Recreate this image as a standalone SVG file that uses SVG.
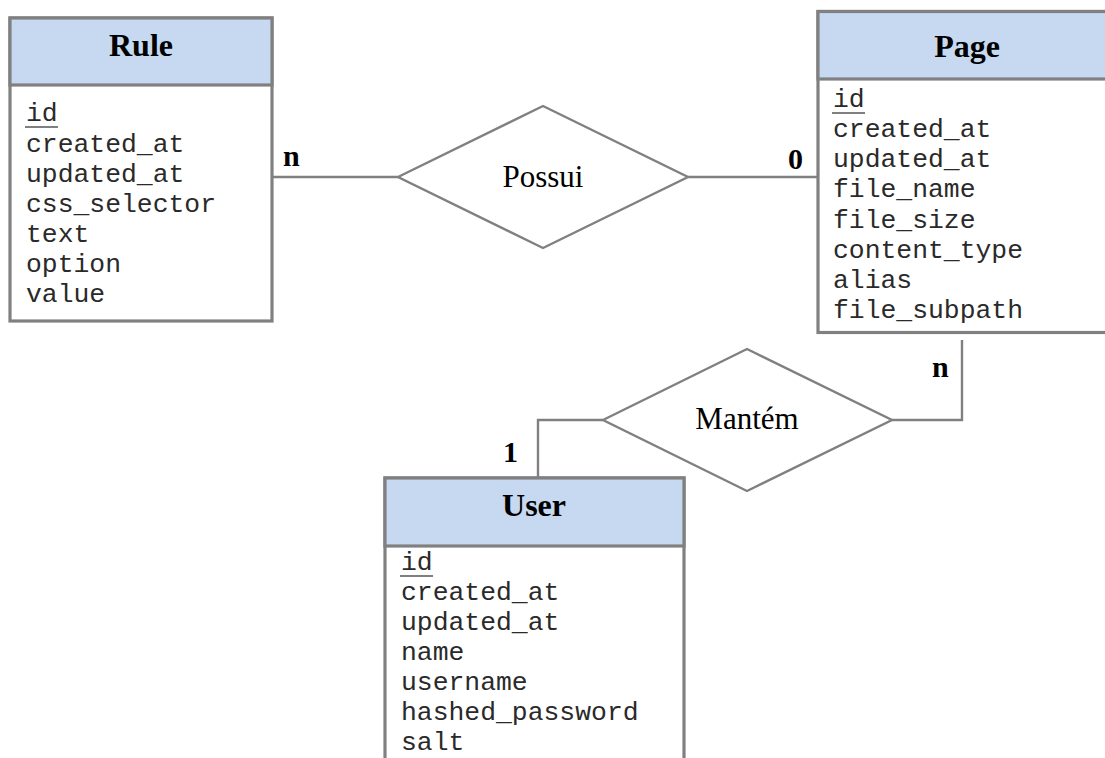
<svg xmlns="http://www.w3.org/2000/svg" width="1105" height="758" viewBox="0 0 1105 758">
  <style>
    .box { fill: #ffffff; stroke: #808080; stroke-width: 3.2; }
    .head { fill: #c6d9f0; stroke: #808080; stroke-width: 3.2; }
    .title { font-family: "Liberation Serif", "Times New Roman", serif; font-weight: bold; font-size: 32px; fill: #000; text-anchor: middle; }
    .attr { font-family: "Liberation Mono", "Courier New", monospace; font-size: 26.4px; fill: #2a2a2a; }
    .pk { stroke: #000; stroke-width: 1.2; }
    .rel { fill: #ffffff; stroke: #808080; stroke-width: 2.4; }
    .relname { font-family: "Liberation Serif", "Times New Roman", serif; font-size: 31px; fill: #000; text-anchor: middle; }
    .card { font-family: "Liberation Serif", "Times New Roman", serif; font-weight: bold; font-size: 30px; fill: #000; }
    .link { fill: none; stroke: #808080; stroke-width: 2.4; }
  </style>
  <rect width="1105" height="758" fill="#ffffff"/>

  <!-- connectors -->
  <g id="connectors">
    <polyline class="link" points="272,177 398,177"/>
    <polyline class="link" points="688,177 818,177"/>
    <polyline class="link" points="603,420 538,420 538,478"/>
    <polyline class="link" points="892,420 962,420 962,340"/>
    <text class="card" x="283" y="166">n</text>
    <text class="card" x="788" y="169">0</text>
    <text class="card" x="932" y="377">n</text>
    <text class="card" x="503" y="462">1</text>
  </g>

  <!-- entity: Rule -->
  <g id="rule">
    <rect class="box" x="10" y="18" width="262" height="303"/>
    <rect class="head" x="10" y="18" width="262" height="67"/>
    <text class="title" x="141" y="56">Rule</text>
    <text class="attr" x="26" y="121">id</text>
    <line class="pk" x1="25" y1="127" x2="58" y2="127"/>
    <text class="attr" x="26" y="152">created_at</text>
    <text class="attr" x="26" y="182">updated_at</text>
    <text class="attr" x="26" y="212">css_selector</text>
    <text class="attr" x="26" y="242">text</text>
    <text class="attr" x="26" y="272">option</text>
    <text class="attr" x="26" y="302">value</text>
  </g>

  <!-- entity: Page -->
  <g id="page">
    <rect class="box" x="818" y="11.5" width="300" height="321"/>
    <rect class="head" x="818" y="11.5" width="300" height="67.5"/>
    <text class="title" x="967" y="57">Page</text>
    <text class="attr" x="833" y="107">id</text>
    <line class="pk" x1="832" y1="113" x2="865" y2="113"/>
    <text class="attr" x="833" y="137">created_at</text>
    <text class="attr" x="833" y="167">updated_at</text>
    <text class="attr" x="833" y="197">file_name</text>
    <text class="attr" x="833" y="228">file_size</text>
    <text class="attr" x="833" y="258">content_type</text>
    <text class="attr" x="833" y="288">alias</text>
    <text class="attr" x="833" y="318">file_subpath</text>
  </g>

  <!-- entity: User -->
  <g id="user">
    <rect class="box" x="385" y="478" width="299" height="300"/>
    <rect class="head" x="385" y="478" width="299" height="68"/>
    <text class="title" x="534" y="516">User</text>
    <text class="attr" x="401" y="570">id</text>
    <line class="pk" x1="400" y1="576" x2="433" y2="576"/>
    <text class="attr" x="401" y="600">created_at</text>
    <text class="attr" x="401" y="630">updated_at</text>
    <text class="attr" x="401" y="660">name</text>
    <text class="attr" x="401" y="690">username</text>
    <text class="attr" x="401" y="720">hashed_password</text>
    <text class="attr" x="401" y="750">salt</text>
  </g>

  <!-- relationship: Possui -->
  <g id="possui">
    <polygon class="rel" points="398,177 543,106 688,177 543,248"/>
    <text class="relname" x="543" y="187">Possui</text>
  </g>

  <!-- relationship: Mantém -->
  <g id="mantem">
    <polygon class="rel" points="603,420 747,349 892,420 747,491"/>
    <text class="relname" x="747" y="429">Mantém</text>
  </g>
</svg>
